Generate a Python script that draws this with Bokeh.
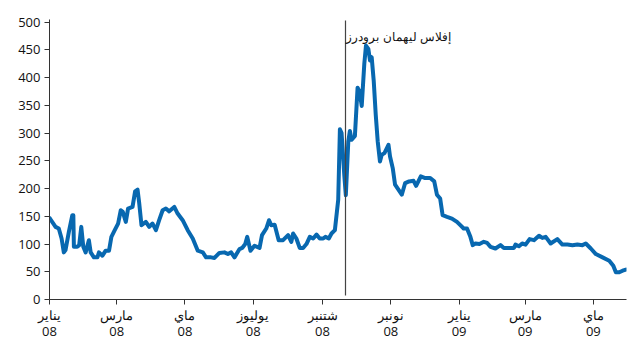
from bokeh.plotting import figure
from bokeh.models import ColumnDataSource, FixedTicker, Range1d, Label, LinearAxis
from bokeh.embed import file_html
from bokeh.resources import INLINE

# Days counted from 1 January 2008, with the index level on each day
days = [0, 2.4, 5.4, 8.3, 10.8, 12.8, 14.3, 17.3, 20.4, 21.3, 21.8, 24.8, 26.5, 28.4,
        30.2, 32.3, 35.2, 36.8, 39.7, 42.8, 44.2, 47.3, 50.2, 53.2, 55.3, 58.3, 61.3,
        63.7, 65.5, 68.2, 70.2, 74.2, 76.5, 78.7, 80.1, 82.2, 86.1, 89.1, 92.1, 95.1,
        98.0, 101.1, 104.0, 107.0, 111.5, 114.5, 119.0, 123.5, 128.0, 132.5, 137.0,
        139.9, 144.4, 147.4, 151.8, 156.3, 159.4, 162.3, 165.3, 169.8, 172.2, 174.9,
        176.7, 179.6, 183.2, 187.7, 189.9, 193.7, 196.2, 198.2, 201.2, 204.8, 208.7,
        213.2, 216.1, 217.7, 220.6, 223.6, 226.6, 229.6, 232.6, 235.6, 238.6, 241.5,
        244.6, 246.6, 249.6, 252.0, 255.0, 258.0, 259.5, 261.0, 263.4, 264.8, 267.0,
        268.4, 270.0, 272.9, 275.3, 277.1, 279.0, 281.3, 282.8, 284.9, 286.4, 287.9,
        289.7, 291.5, 293.3, 295.3, 296.9, 299.3, 302.9, 304.3, 306.7, 308.8, 311.8,
        314.8, 317.8, 321.3, 325.3, 327.6, 331.8, 335.7, 340.2, 343.8, 346.2, 349.1,
        351.3, 355.2, 359.6, 364.1, 367.1, 370.1, 373.1, 376.1, 378.2, 380.6, 384.2,
        388.1, 391.1, 394.1, 398.5, 403.0, 406.0, 410.5, 415.0, 416.4, 419.5, 422.4,
        425.4, 429.0, 432.9, 437.4, 440.4, 443.4, 447.8, 453.8, 458.3, 462.8, 467.3,
        471.7, 476.2, 479.2, 483.7, 488.2, 494.2, 500.2, 503.8, 506.1, 509.1, 512.1,
        515.1]
index_value = [147, 140, 131, 128, 110, 85, 89, 122, 152, 152, 95, 95, 98, 131,
               95, 85, 107, 85, 76, 76, 85, 79, 88, 88, 113, 125, 137,
               161, 158, 140, 164, 167, 195, 198, 175, 134, 140, 131, 137, 125,
               143, 161, 164, 159, 167, 155, 143, 125, 110, 88, 85,
               76, 76, 75, 84, 85, 82, 85, 76, 91, 93, 100,
               113, 88, 97, 93, 116, 128, 143, 134, 135, 107, 107,
               116, 104, 119, 110, 93, 93, 100, 113, 110, 117, 110,
               110, 113, 110, 119, 125, 180, 307, 300, 225, 188, 285,
               304, 288, 295, 382, 375, 349, 425, 458, 452, 431, 437,
               395, 334, 285, 249, 261, 264, 279, 258, 237, 207, 198,
               189, 210, 213, 214, 205, 222, 219, 219, 213, 189, 182,
               152, 149, 146, 140, 134, 128, 128, 113, 98, 101, 100,
               104, 102, 95, 92, 98, 93, 93, 93, 99, 96, 101,
               99, 109, 107, 115, 111, 113, 101, 109, 99, 99, 98,
               99, 98, 101, 92, 82, 76, 70, 61, 49, 49, 52,
               54]

# Month ticks (first day of each month, in days from 1 January 2008)
tick_days = [0, 60, 121, 182, 244, 305, 366, 425, 486]
month_labels = ["يناير", "مارس", "ماي", "يوليوز", "شتنبر", "نونبر", "يناير", "مارس", "ماي"]
year_labels = ["08", "08", "08", "08", "08", "08", "09", "09", "09"]
y_ticks = [0, 50, 100, 150, 200, 250, 300, 350, 400, 450, 500]

event_day = 264.5
event_label = "إفلاس ليهمان برودرز"

LINE_BLUE = "#0868b0"
AXIS_GREY = "#333333"
TEXT = "#111111"
FONT = "Open Sans"

p = figure(width=632, height=338, output_backend="svg", toolbar_location=None,
           x_range=Range1d(0, 515.6), y_range=Range1d(0, 505),
           min_border_left=49, min_border_right=6, min_border_top=19,
           min_border_bottom=0)
p.outline_line_color = None
p.grid.grid_line_color = None
p.background_fill_color = "white"
p.border_fill_color = "white"

src = ColumnDataSource(data=dict(day=days, value=index_value))
p.line("day", "value", source=src, line_color=LINE_BLUE, line_width=4,
       line_join="round", line_cap="round")

# Event marker
p.segment(x0=[event_day], y0=[7], x1=[event_day], y1=[503],
          line_color="#444444", line_width=1.2)
p.add_layout(Label(x=event_day + 0.8, y=475, text=event_label, text_align="left",
                   text_baseline="middle", text_font=FONT, text_font_size="12px",
                   text_color=TEXT))

# Month axis
xa = p.xaxis[0]
xa.ticker = FixedTicker(ticks=tick_days)
xa.major_label_overrides = {d: lab for d, lab in zip(tick_days, month_labels)}
xa.major_tick_in = 0
xa.major_tick_out = 5
xa.minor_tick_line_color = None
xa.axis_line_color = AXIS_GREY
xa.major_tick_line_color = AXIS_GREY
xa.major_label_text_font = FONT
xa.major_label_text_font_size = "13px"
xa.major_label_text_color = TEXT
xa.major_label_standoff = 1

# Year row under the month names
ya2 = LinearAxis(ticker=FixedTicker(ticks=tick_days),
                 major_label_overrides={d: lab for d, lab in zip(tick_days, year_labels)},
                 axis_line_color=None, major_tick_line_color=None,
                 minor_tick_line_color=None, major_tick_in=0, major_tick_out=0,
                 major_label_standoff=0, major_label_text_font=FONT,
                 major_label_text_font_size="13px", major_label_text_color=TEXT)
p.add_layout(ya2, "below")

ya = p.yaxis[0]
ya.ticker = FixedTicker(ticks=y_ticks)
ya.major_tick_in = 0
ya.major_tick_out = 5
ya.minor_tick_line_color = None
ya.axis_line_color = AXIS_GREY
ya.major_tick_line_color = AXIS_GREY
ya.major_label_text_font = FONT
ya.major_label_text_font_size = "13px"
ya.major_label_text_color = TEXT
ya.major_label_standoff = 4

open("out.html", "w").write(file_html(p, INLINE))
